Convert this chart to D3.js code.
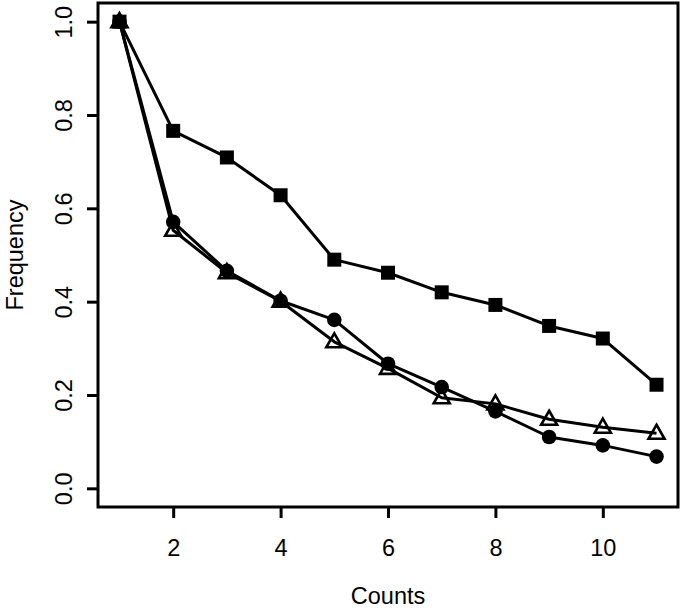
<!DOCTYPE html>
<html>
<head>
<meta charset="utf-8">
<script src="https://cdn.jsdelivr.net/npm/d3@7"></script>
<style>
  html, body { margin: 0; padding: 0; background: #fff; }
  svg { display: block; }
  text { font-family: "Liberation Sans", Arial, Helvetica, sans-serif; fill: #000; }
</style>
</head>
<body>
<svg id="chart" width="685" height="610"></svg>
<script>
// ---- data ----
const counts = [1, 2, 3, 4, 5, 6, 7, 8, 9, 10, 11];
const squareSeries   = [1.0, 0.766, 0.709, 0.628, 0.490, 0.462, 0.420, 0.393, 0.348, 0.321, 0.222];
const circleSeries   = [1.0, 0.571, 0.466, 0.402, 0.361, 0.267, 0.217, 0.165, 0.110, 0.092, 0.068];
const triangleSeries = [1.0, 0.553, 0.462, 0.401, 0.314, 0.257, 0.194, 0.181, 0.148, 0.131, 0.118];
const xTicks = [2, 4, 6, 8, 10];
const yTicks = [0.0, 0.2, 0.4, 0.6, 0.8, 1.0];
const xLabel = "Counts";
const yLabel = "Frequency";

// ---- layout ----
const svg = d3.select("#chart");
const pLeft = 98, pRight = 678, pTop = 3, pBottom = 507;
const x = d3.scaleLinear().domain([0.6, 11.4]).range([pLeft, pRight]);
const y = d3.scaleLinear().domain([-0.04, 1.04]).range([pBottom, pTop]);
const fontSize = 23.5;
const lw = 3;

// box
svg.append("rect")
  .attr("x", pLeft).attr("y", pTop)
  .attr("width", pRight - pLeft).attr("height", pBottom - pTop)
  .attr("fill", "none").attr("stroke", "#000").attr("stroke-width", lw);

// x axis
const xAxis = d3.axisBottom(x).tickValues(xTicks).tickSize(11).tickPadding(0).tickFormat(d3.format("d"));
const gx = svg.append("g").attr("transform", `translate(0,${pBottom})`).call(xAxis);
gx.select(".domain").remove();
gx.selectAll(".tick line").attr("stroke", "#000").attr("stroke-width", lw);
gx.selectAll(".tick text")
  .attr("y", 556 - pBottom).attr("dy", null)
  .style("font-size", fontSize + "px")
  .style("font-family", "'Liberation Sans', Arial, sans-serif")
  .attr("fill", "#000");

// y axis
const yAxis = d3.axisLeft(y).tickValues(yTicks).tickSize(11).tickPadding(0).tickFormat(d3.format(".1f"));
const gy = svg.append("g").attr("transform", `translate(${pLeft},0)`).call(yAxis);
gy.select(".domain").remove();
gy.selectAll(".tick line").attr("stroke", "#000").attr("stroke-width", lw);
gy.selectAll(".tick text")
  .attr("x", null).attr("dy", null)
  .attr("transform", `translate(${72 - pLeft},0) rotate(-90)`)
  .attr("text-anchor", "middle")
  .style("font-size", fontSize + "px")
  .style("font-family", "'Liberation Sans', Arial, sans-serif")
  .attr("fill", "#000");

// axis titles
svg.append("text")
  .attr("x", (pLeft + pRight) / 2).attr("y", 604)
  .attr("text-anchor", "middle")
  .style("font-size", fontSize + "px")
  .text(xLabel);
svg.append("text")
  .attr("transform", `translate(23,${(pTop + pBottom) / 2}) rotate(-90)`)
  .attr("text-anchor", "middle")
  .style("font-size", fontSize + "px")
  .text(yLabel);

// lines
const line = d3.line().x((d, i) => x(counts[i])).y(d => y(d));
const series = [
  { values: circleSeries, shape: "circle" },
  { values: squareSeries, shape: "square" },
  { values: triangleSeries, shape: "triangle" }
];
const plot = svg.append("g");
series.forEach(s => {
  plot.append("path")
    .datum(s.values)
    .attr("d", line)
    .attr("fill", "none")
    .attr("stroke", "#000")
    .attr("stroke-width", lw)
    .attr("stroke-linejoin", "round");
});
series.forEach(s => {
  const g = plot.append("g");
  const pts = g.selectAll("path.pt").data(s.values).enter().append("path").attr("class", "pt")
    .attr("transform", (d, i) => `translate(${x(counts[i])},${y(d)})`);
  if (s.shape === "circle") {
    pts.attr("d", d3.symbol().type(d3.symbolCircle).size(Math.PI * 7.3 * 7.3)()).attr("fill", "#000");
  } else if (s.shape === "square") {
    pts.attr("d", "M-7,-7H7V7H-7Z").attr("fill", "#000");
  } else {
    pts.attr("d", "M0,-8.5L8,5.5H-8Z")
      .attr("fill", "none").attr("stroke", "#000").attr("stroke-width", 2.6).attr("stroke-linejoin", "miter");
  }
});
</script>
</body>
</html>
